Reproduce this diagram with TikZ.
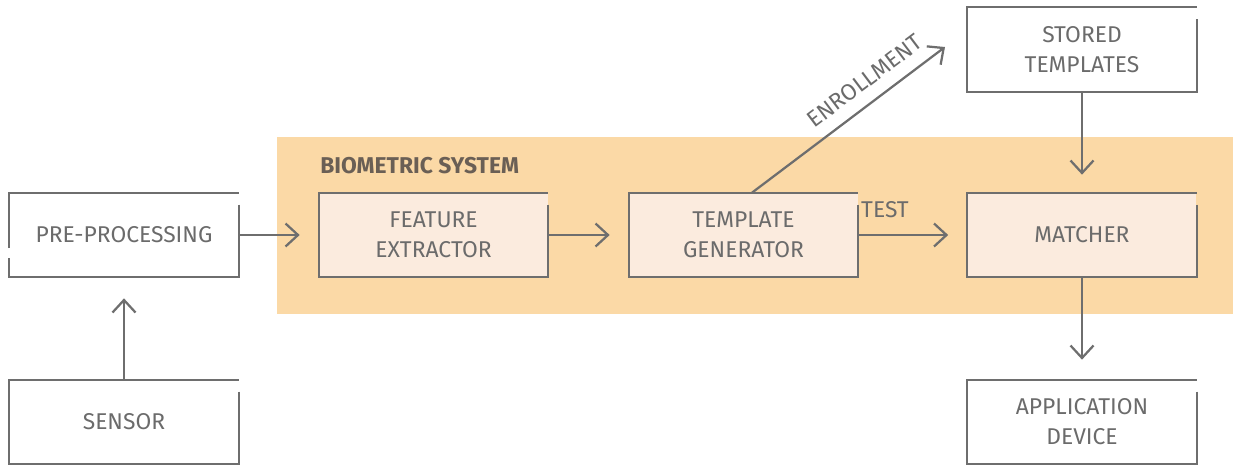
\documentclass[tikz,border=0pt]{standalone}
\usepackage{fontspec}
\setmainfont{Fira Sans}
\usetikzlibrary{calc,arrows.meta}
\definecolor{lineg}{HTML}{6E6E6E}
\definecolor{textg}{HTML}{6B6B6B}
\definecolor{bandor}{HTML}{FBD9A6}
\definecolor{boxin}{HTML}{FBEBDE}
\definecolor{headg}{HTML}{6A5F55}
\tikzset{
	blk/.style={minimum width=4.58cm, minimum height=1.68cm, align=center, text=textg, font=\fontsize{13}{17}\selectfont},
	blkin/.style={blk, fill=boxin},
	conn/.style={line width=0.045cm, color=lineg, -{Straight Barb[length=0.25cm, width=0.46cm, line width=0.045cm]}},
	rim/.style={line width=0.045cm, color=lineg, line join=miter},
	lbl/.style={text=textg, font=\fontsize{13}{16}\selectfont, inner sep=1pt}
}
% box outline, open at its top right corner
\def\openbox(#1){\draw[rim] ($(#1.north east)+(0,12)$) -- (#1.south east) -- (#1.south west) -- (#1.north west) -- (#1.north east);}

\begin{document}
\begin{tikzpicture}[x=0.02cm, y=-0.02cm]
		%%%%% START %%%%%
		\useasboundingbox (0,0) rectangle (1233,468);
		
		\fill[bandor] (277,137) rectangle (1233,314);
		\node[anchor=west, text=headg, font=\fontsize{13}{16}\selectfont\bfseries, inner sep=0pt] (sysname) at (320,166) {BIOMETRIC SYSTEM};
		
		\node[blk] (prep) at (124,235) {PRE-PROCESSING};
		\node[blk] (sensor) at (124,422) {SENSOR};
		\node[blkin] (feat) at (433.5,235) {FEATURE\\EXTRACTOR};
		\node[blkin] (tgen) at (743.5,235) {TEMPLATE\\GENERATOR};
		\node[blkin] (match) at (1082,235) {MATCHER};
		\node[blk] (store) at (1082,49.5) {STORED\\TEMPLATES};
		\node[blk] (appdev) at (1082,422) {APPLICATION\\DEVICE};
		
		% pre-processing has a break in its left side too
		\draw[rim] ($(prep.north east)+(0,12)$) -- (prep.south east) -- (prep.south west) -- ($(prep.west)+(0,23)$);
		\draw[rim] ($(prep.west)+(0,13)$) -- (prep.north west) -- (prep.north east);
		\openbox(sensor)
		\openbox(feat)
		\openbox(tgen)
		\openbox(match)
		\openbox(store)
		\openbox(appdev)
		
		\draw[conn] (sensor.north) -- ($(prep.south)+(0,21)$);
		\draw[conn] (prep.east) -- ($(feat.west)+(-19,0)$);
		\draw[conn] (feat.east) -- ($(tgen.west)+(-19,0)$);
		\draw[conn] (tgen.east) -- node[lbl, pos=0, anchor=south west, yshift=8] (testlbl) {TEST} ($(match.west)+(-19,0)$);
		
		\coordinate (enrend) at (945,47);
		\draw[conn] ($(tgen.north)+(8.5,0)$) -- node[lbl, pos=0.65, sloped, above, yshift=6] (enrlbl) {ENROLLMENT} (enrend);
		
		\draw[conn] (store.south) -- ($(match.north)+(0,-18)$);
		\draw[conn] (match.south) -- ($(appdev.north)+(0,-20)$);
		%%%%% END %%%%%
	\end{tikzpicture}
\end{document}
